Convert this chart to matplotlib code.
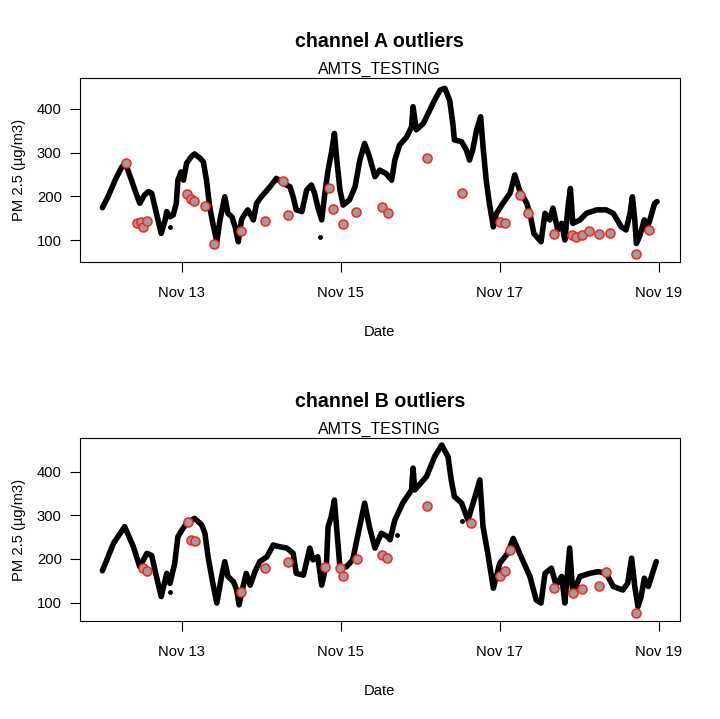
"""Channel A / B PM2.5 outlier plots (two stacked panels)."""
from datetime import datetime

import numpy as np
import matplotlib
matplotlib.use("Agg")
import matplotlib.pyplot as plt
import matplotlib.dates as mdates
import matplotlib.transforms as mtransforms

plt.rcParams["font.family"] = ["Liberation Sans", "DejaVu Sans"]

# time in days since Nov 12 00:00
a_t = [0.00, 0.07, 0.16, 0.24, 0.29, 0.35, 0.41, 0.47, 0.53, 0.58, 0.62, 0.66,
       0.70, 0.74, 0.79, 0.81, 0.85, 0.89, 0.93, 0.95, 0.99, 1.02, 1.06, 1.12,
       1.16, 1.23, 1.27, 1.31, 1.35, 1.39, 1.44, 1.48, 1.54, 1.58, 1.63, 1.67,
       1.71, 1.75, 1.77, 1.83, 1.90, 1.94, 2.00, 2.11, 2.19, 2.27, 2.36, 2.40,
       2.44, 2.51, 2.57, 2.63, 2.67, 2.71, 2.76, 2.80, 2.84, 2.88, 2.92, 2.95,
       2.99, 3.03, 3.11, 3.18, 3.24, 3.30, 3.36, 3.43, 3.49, 3.57, 3.64, 3.68,
       3.74, 3.83, 3.89, 3.91, 3.95, 4.04, 4.12, 4.18, 4.25, 4.31, 4.37, 4.41,
       4.43, 4.52, 4.58, 4.62, 4.66, 4.71, 4.76, 4.79, 4.83, 4.87, 4.92, 4.96,
       5.04, 5.13, 5.19, 5.25, 5.34, 5.38, 5.43, 5.52, 5.57, 5.63, 5.67, 5.73,
       5.78, 5.82, 5.86, 5.89, 5.92, 6.01, 6.09, 6.22, 6.34, 6.43, 6.53, 6.59,
       6.64, 6.67, 6.70, 6.72, 6.76, 6.82, 6.85, 6.89, 6.95, 6.98]
a_pm = [174, 199, 237, 266, 276, 245, 214, 184, 203, 211, 207, 176,
        146, 115, 146, 165, 153, 157, 184, 237, 256, 237, 276, 291,
        297, 287, 279, 237, 176, 138, 96, 146, 199, 161, 153, 130,
        96, 146, 153, 169, 146, 184, 199, 222, 241, 230, 222, 199,
        169, 165, 214, 226, 207, 176, 146, 207, 260, 298, 344, 283,
        214, 180, 192, 222, 283, 321, 291, 245, 260, 252, 237, 283,
        317, 336, 359, 405, 352, 367, 397, 420, 443, 447, 420, 367,
        329, 325, 306, 283, 306, 352, 382, 314, 237, 184, 130, 161,
        184, 207, 249, 214, 184, 161, 115, 96, 161, 146, 173, 123,
        138, 100, 176, 218, 138, 146, 161, 169, 169, 161, 130, 123,
        161, 199, 146, 92, 108, 146, 123, 146, 184, 188]
a_stray_t = [0.85, 2.74]
a_stray_pm = [130, 106]
a_out_t = [0.30, 0.44, 0.49, 0.51, 0.56, 1.06, 1.12, 1.15, 1.29, 1.40, 1.75,
           2.05, 2.27, 2.33, 2.85, 2.90, 3.03, 3.19, 3.52, 3.59, 4.08, 4.53,
           5.00, 5.07, 5.25, 5.36, 5.68, 5.91, 5.96, 6.03, 6.12, 6.25, 6.39,
           6.71, 6.88]
a_out_pm = [276, 140, 142, 130, 144, 205, 195, 189, 178, 92, 121,
            143, 236, 158, 219, 170, 136, 165, 176, 161, 287, 207,
            142, 138, 203, 161, 114, 112, 108, 111, 120, 114, 117,
            67, 124]

b_t = [0.00, 0.14, 0.28, 0.39, 0.47, 0.56, 0.62, 0.68, 0.74, 0.81, 0.85, 0.91,
       0.95, 1.00, 1.06, 1.16, 1.25, 1.29, 1.33, 1.39, 1.44, 1.50, 1.54, 1.58,
       1.65, 1.69, 1.72, 1.77, 1.81, 1.86, 1.92, 1.98, 2.07, 2.15, 2.23, 2.32,
       2.40, 2.44, 2.53, 2.61, 2.65, 2.71, 2.76, 2.82, 2.84, 2.88, 2.92, 2.95,
       2.99, 3.07, 3.15, 3.22, 3.30, 3.36, 3.43, 3.51, 3.59, 3.62, 3.68, 3.78,
       3.89, 3.91, 3.93, 4.08, 4.18, 4.27, 4.35, 4.39, 4.43, 4.52, 4.60, 4.69,
       4.75, 4.79, 4.85, 4.92, 5.00, 5.10, 5.17, 5.25, 5.38, 5.46, 5.52, 5.57,
       5.65, 5.71, 5.78, 5.82, 5.88, 5.92, 6.01, 6.13, 6.24, 6.34, 6.43, 6.55,
       6.61, 6.66, 6.70, 6.74, 6.78, 6.82, 6.87, 6.91, 6.97]
b_pm = [173, 236, 274, 228, 182, 213, 208, 160, 114, 167, 144, 190,
        251, 266, 282, 293, 278, 259, 205, 144, 99, 160, 194, 160,
        148, 129, 95, 137, 167, 140, 171, 194, 205, 232, 228, 225,
        213, 167, 163, 225, 198, 205, 140, 190, 274, 297, 335, 266,
        179, 182, 198, 259, 328, 274, 225, 259, 251, 244, 289, 328,
        358, 408, 358, 389, 434, 461, 434, 381, 343, 328, 289, 343,
        381, 274, 213, 133, 190, 213, 247, 213, 160, 106, 99, 167,
        179, 140, 160, 99, 225, 121, 160, 167, 171, 167, 137, 129,
        144, 202, 137, 91, 114, 156, 137, 160, 194]
b_stray_t = [0.85, 3.71, 4.52]
b_stray_pm = [124, 255, 288]
b_out_t = [0.51, 0.56, 1.08, 1.12, 1.16, 1.75, 2.05, 2.33, 2.80, 2.99, 3.03,
           3.20, 3.52, 3.58, 4.08, 4.64, 5.00, 5.07, 5.13, 5.68, 5.92, 6.04,
           6.25, 6.34, 6.71]
b_out_pm = [180, 173, 284, 244, 242, 125, 180, 194, 182, 179, 162,
            200, 210, 203, 322, 282, 160, 173, 221, 133, 121, 131,
            138, 171, 76]

y_ticks = [100, 200, 300, 400]
x_ticks = ["2019-11-13", "2019-11-15", "2019-11-17", "2019-11-19"]

T0 = mdates.date2num(datetime(2019, 11, 12))


def to_dates(t):
    return T0 + np.asarray(t, dtype=float)


def panel(ax, t, pm, st, spm, ot, opm, title, ylim):
    ax.plot(to_dates(t), pm, color="black", lw=4.0, solid_joinstyle="round",
            solid_capstyle="round", zorder=2)
    ax.plot(to_dates(st), spm, "o", color="black", ms=2.5, zorder=2)
    ax.plot(to_dates(ot), opm, "o", mfc="#9c9c9c", mec="#ff2020", mew=1.1,
            ms=6.5, ls="none", zorder=3)
    ax.set_xlim(T0 - 0.283, T0 + 7.265)
    ax.set_ylim(*ylim)
    ax.set_yticks(y_ticks)
    ax.set_xticks([mdates.date2num(datetime.fromisoformat(d)) for d in x_ticks])
    ax.xaxis.set_major_formatter(mdates.DateFormatter("%b %d"))
    ax.tick_params(direction="out", length=7, width=0.8, labelsize=10.6,
                   colors="black")
    ax.tick_params(axis="x", pad=10)
    ax.tick_params(axis="y", pad=6)
    for s in ax.spines.values():
        s.set_linewidth(0.8)
    ax.set_xlabel("Date", fontsize=10.6, labelpad=18)
    ax.set_ylabel("PM 2.5 (\u00b5g/m3)", fontsize=10.6, labelpad=8)
    ax.set_title("AMTS_TESTING", fontsize=11.5, pad=3)
    off = mtransforms.ScaledTranslation(0, 19.5 / 72, ax.figure.dpi_scale_trans)
    ax.text(0.5, 1.0, title, transform=ax.transAxes + off, ha="center",
            va="bottom", fontsize=14.1, fontweight="bold")


fig = plt.figure(figsize=(7.2, 7.19), dpi=100)
ax_a = fig.add_axes([0.111, 0.6356, 0.833, 0.2559])
ax_b = fig.add_axes([0.111, 0.1363, 0.833, 0.2545])

panel(ax_a, a_t, a_pm, a_stray_t, a_stray_pm, a_out_t, a_out_pm,
      "channel A outliers", (49.7, 470.7))
panel(ax_b, b_t, b_pm, b_stray_t, b_stray_pm, b_out_t, b_out_pm,
      "channel B outliers", (58, 477))

fig.savefig("out.png", dpi=100)
